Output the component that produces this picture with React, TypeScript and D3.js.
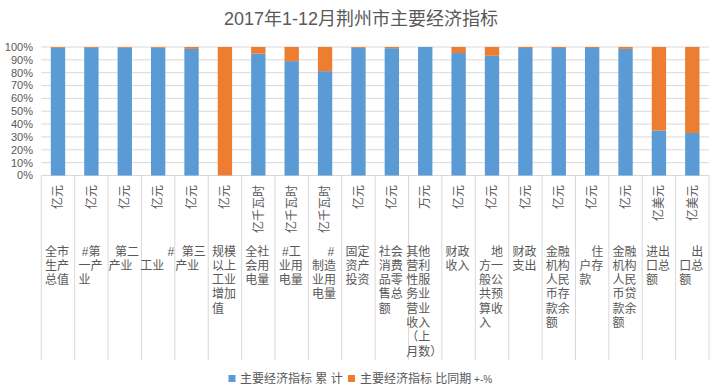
import React from "react";
import * as d3 from "d3";

// category labels, wrapped the way the original axis shows them
const categories = [
  "全市\n生产\n总值",
  " #第\n一产\n业",
  "  第二\n产业",
  "\u3000\u3000 #\n工业",
  "  第三\n产业",
  "规模\n以上\n工业\n增加\n值",
  "全社\n会用\n电量",
  " #工\n业用\n电量",
  "\u3000 #\n制造\n业用\n电量",
  "固定\n资产\n投资",
  "社会\n消费\n品零\n售总\n额",
  "其他\n营利\n性服\n务业\n营业\n收入\n（上\n月数）",
  "财政\n收入",
  "\u3000地\n方一\n般公\n共预\n算收\n入",
  "财政\n支出",
  "金融\n机构\n人民\n币存\n款余\n额",
  "\u3000住\n户存\n款",
  "金融\n机构\n人民\n币贷\n款余\n额",
  "进出\n口总\n额",
  "\u3000出\n口总\n额",
];
const units = [
  "亿元", "亿元", "亿元", "亿元", "亿元", "亿元",
  "亿千瓦时", "亿千瓦时", "亿千瓦时",
  "亿元", "亿元", "万元", "亿元", "亿元", "亿元", "亿元", "亿元", "亿元",
  "亿美元", "亿美元",
];
// share of each stack (%)
const cumulative = [99.3, 99.3, 99.4, 99.4, 98.5, 0, 94.8, 89.0, 81.2, 99.3, 99.1, 100, 95.3, 93.2, 99.2, 99.2, 99.2, 98.5, 34.9, 33.1];
const yoy = [0.7, 0.7, 0.6, 0.6, 1.5, 100, 5.2, 11.0, 18.8, 0.7, 0.9, 0, 4.7, 6.8, 0.8, 0.8, 0.8, 1.5, 65.1, 66.9];
const seriesNames = ["主要经济指标 累 计", "主要经济指标 比同期"];
const colors = ["#5B9BD5", "#ED7D31"];

const W = 721;
const H = 391;
// latin font first keeps the line boxes tight, CJK glyphs fall back to Noto
const FONT = "'Liberation Sans', 'Noto Sans CJK SC', sans-serif";
const TXT = "#595959";
const GRID = "#D9D9D9";

let ctx: CanvasRenderingContext2D | null = null;
const measure = (s: string) => {
  if (!ctx) ctx = document.createElement("canvas").getContext("2d");
  if (!ctx) return s.length * 12;
  ctx.font = `12px ${FONT}`;
  return ctx.measureText(s).width;
};

export default function App() {
  const rows = categories.map((c, i) => ({ cat: c, cum: cumulative[i], yoy: yoy[i] }));
  const stacked = d3
    .stack<any>()
    .keys(["cum", "yoy"])
    .offset(d3.stackOffsetExpand)(rows);

  const x = d3
    .scaleBand()
    .domain(categories)
    .range([41.3, 709])
    .paddingInner(0.57)
    .paddingOuter(0.285);
  const y = d3.scaleLinear().domain([0, 1]).range([175.5, 47]);
  const step = x.step();
  const fmt = d3.format(".0%");
  const bottom = 360;

  return (
    <div style={{ position: "absolute", left: 0, top: 0 }}>
      <svg width={W} height={H} style={{ display: "block", background: "#fff" }} fontFamily={FONT}>
        <text x={361} y={25} textAnchor="middle" fontSize={18} fill={TXT}>
          2017年1-12月荆州市主要经济指标
        </text>

        {/* grid + y labels */}
        {y.ticks(10).map((t) => (
          <g key={t}>
            <line x1={41.3} x2={709} y1={y(t)} y2={y(t)} stroke={GRID} strokeWidth={1} />
            <text x={33} y={y(t)} dy="0.35em" textAnchor="end" fontSize={11} fill={TXT}>
              {fmt(t)}
            </text>
          </g>
        ))}

        {/* bars */}
        {stacked.map((s, si) => (
          <g key={si} fill={colors[si]}>
            {s.map((d, i) => (
              <rect
                key={i}
                x={x(categories[i])}
                width={x.bandwidth()}
                y={y(d[1])}
                height={Math.max(0, y(d[0]) - y(d[1]))}
              />
            ))}
          </g>
        ))}

        {/* category dividers */}
        {d3.range(categories.length + 1).map((i) => {
          const xx = 41.3 + i * step;
          return <line key={i} x1={xx} x2={xx} y1={y(0)} y2={bottom} stroke={GRID} />;
        })}

        {/* units (rotated) and names */}
        {categories.map((c, i) => {
          const cx = (x(c) as number) + x.bandwidth() / 2;
          const lines = c.split("\n");
          const bw = d3.max(lines, (l) => measure(l)) as number;
          const left = cx - bw / 2 - 1;
          return (
            <g key={i} fill={TXT} fontSize={12}>
              <text
                transform={`translate(${cx},185) rotate(-90)`}
                textAnchor="end"
                dy="0.35em"
              >
                {units[i]}
              </text>
              <text x={left} y={255.5} style={{ whiteSpace: "pre" }}>
                {lines.map((l, li) => (
                  <tspan key={li} x={left} y={255.5 + li * 14.3}>
                    {l}
                  </tspan>
                ))}
              </text>
            </g>
          );
        })}

        {/* legend */}
        <g fontSize={12} fill={TXT}>
          <rect x={228.5} y={375} width={7} height={7} fill={colors[0]} />
          <text x={240} y={383}>{seriesNames[0]}</text>
          <rect x={348} y={375} width={7} height={7} fill={colors[1]} />
          <text x={360} y={383}>
            {seriesNames[1]}
            <tspan fontSize={10}> +-%</tspan>
          </text>
        </g>
      </svg>
    </div>
  );
}
